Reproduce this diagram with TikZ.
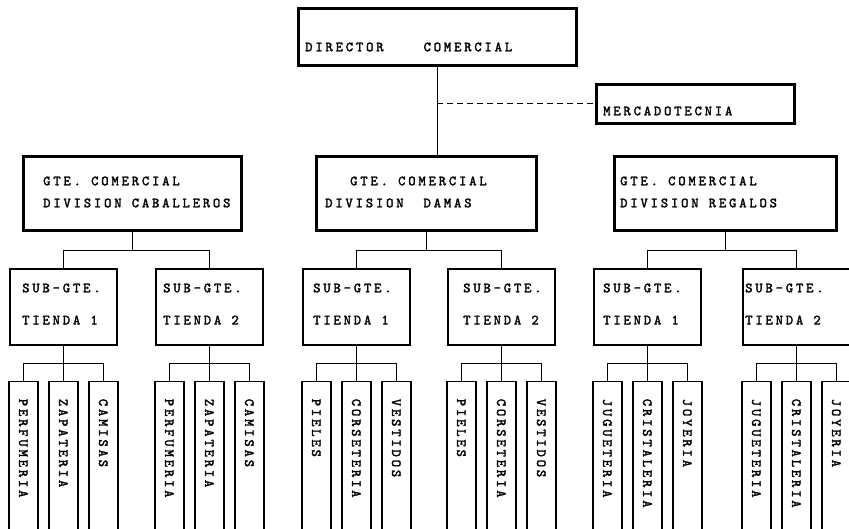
\documentclass[tikz,border=0pt]{standalone}
\usepackage{fontspec}
\newfontfamily\typew{lmmono10-regular.otf}[LetterSpace=20,FakeBold=2]
\usetikzlibrary{positioning,calc}
\tikzset{headbox/.style={draw, line width=2.6pt, inner sep=0pt, anchor=north west}}
\tikzset{subbox/.style={draw, line width=1.6pt, inner sep=0pt, minimum width=107pt, minimum height=76pt, anchor=north west}}
\tikzset{leafbox/.style={draw, line width=1.8pt, inner sep=0pt, minimum width=29pt, minimum height=170pt, anchor=north}}
\tikzset{lbl/.style={font=\typew\fontsize{14}{14}\selectfont, inner sep=0pt, anchor=west}}
\tikzset{leaflbl/.style={lbl, rotate=-90}}
\tikzset{conn/.style={draw, line width=1pt}}

\begin{document}
\begin{tikzpicture}[x=1pt, y=-1pt]
	\clip (0,0) rectangle (849,529);
	\fill[white] (0,0) rectangle (849,529);
	%
	\node[headbox, minimum width=278pt, minimum height=57pt] (dir) at (297,7) {};
	\node[lbl] (dirT) at (305,47) {DIRECTOR\hspace{40pt}COMERCIAL};
	\node[headbox, minimum width=198pt, minimum height=39pt] (merc) at (595,83) {};
	\node[lbl] (mercT) at (603,111) {MERCADOTECNIA};
	%
	\node[headbox, minimum width=218pt, minimum height=74pt] (cab) at (22,155) {};
	\node[lbl] at (43,181) {GTE. COMERCIAL};
	\node[lbl] at (43,203) {DIVISION CABALLEROS};
	\node[headbox, minimum width=220pt, minimum height=74pt] (dam) at (315,155) {};
	\node[lbl] at (350,181) {GTE. COMERCIAL};
	\node[lbl] at (325,203) {DIVISION\hspace{20pt}DAMAS};
	\node[headbox, minimum width=222pt, minimum height=74pt] (reg) at (613,155) {};
	\node[lbl] at (620,181) {GTE. COMERCIAL};
	\node[lbl] at (620,203) {DIVISION REGALOS};
	%
	\draw[conn] (dir.south) -- (dir.south |- dam.north);
	\draw[conn, dash pattern=on 6pt off 4pt] (dir.south |- merc.west) -- (merc.west);
	%
	\foreach \sb/\lx/\ox/\tn/\up/\la/\lb/\lc in {
		c1/9/13/1/cab/PERFUMERIA/ZAPATERIA/CAMISAS,
		c2/155/8/2/cab/PERFUMERIA/ZAPATERIA/CAMISAS,
		d1/302/11/1/dam/PIELES/CORSETERIA/VESTIDOS,
		d2/447/16/2/dam/PIELES/CORSETERIA/VESTIDOS,
		r1/593/10/1/reg/JUGUETERIA/CRISTALERIA/JOYERIA,
		r2/742/3/2/reg/JUGUETERIA/CRISTALERIA/JOYERIA}
	{
		\node[subbox] (\sb) at (\lx,268) {};
		\node[lbl] (\sb-top) at (\lx+\ox,288) {SUB-GTE.};
		\node[lbl] (\sb-bot) at (\lx+\ox,320) {TIENDA \tn};
		\draw[conn] (\up.south) -- ++(0,19) -| (\sb.north);
		\foreach \dx/\txt [count=\i] in {-40/\la,0/\lb,40/\lc} {
			\node[leafbox] (\sb-\i) at ($(\sb.south)+(\dx,35)$) {};
			\node[leaflbl] at ([yshift=-18pt]\sb-\i.north) {\txt};
			\draw[conn] (\sb.south) -- ++(0,18) -| (\sb-\i.north);
		}
	}
\end{tikzpicture}
\end{document}
